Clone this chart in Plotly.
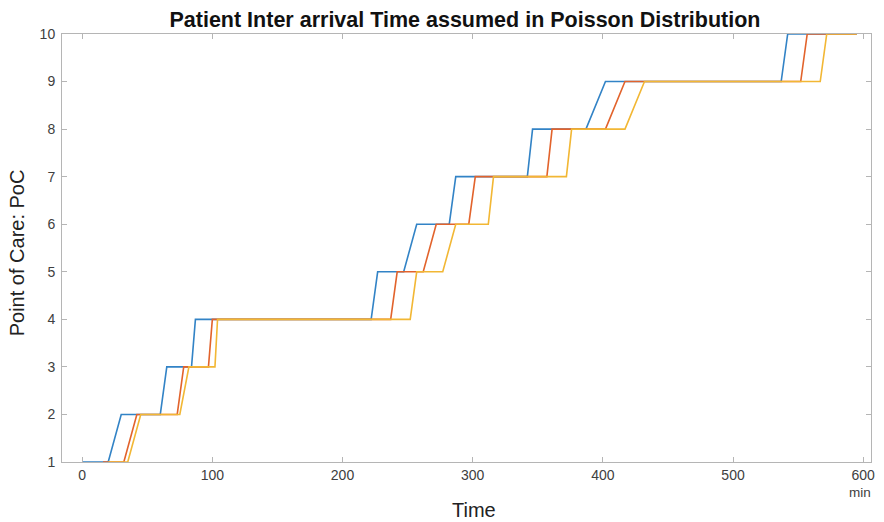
import plotly.graph_objects as go

# Step points (time in min, Point of Care level)
levels = [1, 1, 2, 2, 3, 3, 4, 4, 5, 5, 6, 6, 7, 7, 8, 8, 9, 9, 10, 10]
blue_t = [0, 20, 30, 60, 65, 84, 87, 222, 227, 247, 257, 282, 287, 342, 346, 387, 402, 537, 542, 595]
orange_t = [16, 32, 42, 73, 78, 97, 100, 237, 242, 262, 272, 297, 302, 357, 361, 402, 417, 552, 557, 595]
yellow_t = [20, 35, 45, 75, 82, 102, 104, 252, 257, 277, 287, 312, 316, 372, 376, 417, 432, 567, 572, 595]

x_ticks = [0, 100, 200, 300, 400, 500, 600]
y_ticks = [1, 2, 3, 4, 5, 6, 7, 8, 9, 10]

series = [
    (blue_t, "#3283C6"),
    (orange_t, "#E2632C"),
    (yellow_t, "#F2B734"),
]

FONT = "Liberation Sans, Arial, Helvetica"

fig = go.Figure()
for t, c in series:
    fig.add_trace(go.Scatter(x=t, y=levels, mode="lines",
                             line=dict(color=c, width=1.6), showlegend=False))

axis_common = dict(showgrid=False, zeroline=False, showline=True, linecolor="#b5b5b5",
                   linewidth=1, mirror="ticks", ticks="inside", ticklen=5,
                   tickcolor="#b5b5b5", tickfont=dict(family=FONT, size=14, color="#404040"))

fig.update_layout(
    width=884, height=522,
    margin=dict(l=62, r=9, t=34, b=60),
    plot_bgcolor="white", paper_bgcolor="white",
    title=dict(text="<b>Patient Inter arrival Time assumed in Poisson Distribution</b>",
               x=0.526, xanchor="center", y=0.9636, yanchor="middle",
               font=dict(family=FONT, size=21.5, color="#111111")),
    xaxis=dict(range=[-15.5, 606], tickvals=x_ticks, **axis_common),
    yaxis=dict(range=[1, 10], tickvals=y_ticks, ticklabelstandoff=3, **axis_common),
    annotations=[
        dict(text="Time", xref="paper", yref="paper", x=0.509, y=-0.112, xanchor="center",
             yanchor="middle", showarrow=False,
             font=dict(family=FONT, size=20, color="#222222")),
        dict(text="Point of Care: PoC", xref="paper", yref="paper", x=-0.0554, y=0.488,
             xanchor="center", yanchor="middle", textangle=-90, showarrow=False,
             font=dict(family=FONT, size=20, color="#222222")),
        dict(text="min", xref="paper", yref="paper", x=0.9865, y=-0.0724, xanchor="center",
             yanchor="middle", showarrow=False,
             font=dict(family=FONT, size=13.5, color="#404040")),
    ],
)

fig.write_html("out.html", config={"displayModeBar": False})

# remove the default browser body margin so the figure sits at the page's top-left
with open("out.html", "r", encoding="utf-8") as f:
    html = f.read()
html = html.replace("<body>", '<body style="margin:0;overflow:hidden">', 1)
with open("out.html", "w", encoding="utf-8") as f:
    f.write(html)
